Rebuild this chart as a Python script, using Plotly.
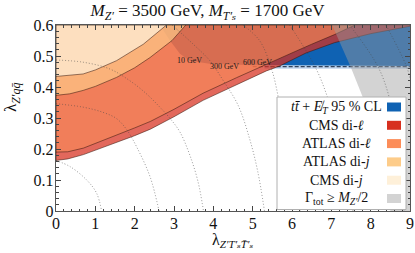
import plotly.graph_objects as go

# ---------------- data ----------------
X_RANGE = [0, 9]
Y_RANGE = [0, 0.6]
x_ticks = [0, 1, 2, 3, 4, 5, 6, 7, 8, 9]
y_ticks = [0, 0.1, 0.2, 0.3, 0.4, 0.5, 0.6]
y_ticktext = ["0", "0.1", "0.2", "0.3", "0.4", "0.5", "0.6"]

# lower boundaries of excluded regions (region lies above the curve)
cms_dil_x = [0, 0.3, 0.7, 1.1, 1.5, 2.0, 2.4, 3.0, 3.74, 4.59, 5.35, 5.69, 6.36, 7.08, 8.0, 9.0]
cms_dil_y = [0.163, 0.168, 0.182, 0.2, 0.22, 0.243, 0.264, 0.304, 0.357, 0.406, 0.452, 0.468, 0.51, 0.543, 0.572, 0.596]

atlas_dil_x = [0, 0.3, 0.7, 1.1, 1.5, 2.0, 2.4, 3.0, 3.74, 4.59, 5.43, 6.0, 6.5, 7.08, 7.6]
atlas_dil_y = [0.19, 0.191, 0.203, 0.222, 0.243, 0.268, 0.289, 0.328, 0.38, 0.43, 0.479, 0.51, 0.538, 0.569, 0.6]

atlas_dij_x = [0, 0.35, 0.69, 1.0, 1.54, 2.0, 2.39, 2.95, 3.3]
atlas_dij_y = [0.373, 0.378, 0.389, 0.402, 0.431, 0.462, 0.495, 0.55, 0.6]

cms_dij_x = [0, 0.35, 0.69, 1.0, 1.54, 2.22, 2.81]
cms_dij_y = [0.434, 0.437, 0.442, 0.455, 0.485, 0.538, 0.6]

# tt + MET excluded region (boundary, region above / right)
ttmet_x = [2.64, 2.9, 3.15, 3.4, 3.9, 5.0, 9.0]
ttmet_y = [0.6, 0.549, 0.507, 0.485, 0.475, 0.47, 0.468]
ttmet_edge_x = [5.0, 9.0]
ttmet_edge_y = [0.466, 0.466]

# Gamma_tot >= M/2 (region right of the curve)
gamma_x = [7.02, 7.5, 7.8, 8.1, 8.35, 8.5]
gamma_y = [0.6, 0.462, 0.367, 0.25, 0.12, 0.0]

# dotted width contours
contours = [
    ([0, 0.36, 0.78, 1.03, 1.16], [0.163, 0.143, 0.1, 0.058, 0]),
    ([0, 0.69, 1.2, 1.54, 1.8, 2.05, 2.39, 2.62], [0.346, 0.335, 0.318, 0.298, 0.262, 0.207, 0.111, 0]),
    ([0, 0.69, 1.37, 1.88, 2.3, 2.64, 2.89, 3.15, 3.4, 3.61, 3.75],
     [0.487, 0.48, 0.458, 0.42, 0.378, 0.335, 0.3, 0.255, 0.181, 0.095, 0]),
    ([2.95, 3.49, 3.91, 4.25, 4.63, 4.92, 5.13, 5.3], [0.6, 0.538, 0.485, 0.421, 0.341, 0.234, 0.127, 0]),
    ([4.75, 5.18, 5.5, 5.69, 5.9, 6.1, 6.2], [0.6, 0.549, 0.45, 0.346, 0.25, 0.12, 0]),
    ([5.94, 6.62, 7.0, 7.3, 7.5, 7.55], [0.6, 0.457, 0.33, 0.2, 0.08, 0]),
    ([7.46, 8.22, 8.6, 8.8, 8.85], [0.6, 0.457, 0.3, 0.15, 0]),
    ([8.39, 8.9, 9.0], [0.6, 0.47, 0.43]),
]

mass_labels = ["10 GeV", "300 GeV", "600 GeV"]
mass_label_x = [3.4, 4.29, 5.13]
mass_label_y = [0.487, 0.466, 0.479]

legend_labels = [
    "<i>t</i><i>t̄</i> + <i>E̸</i><sub><i>T</i></sub> 95 % CL",
    "CMS di-<i>ℓ</i>",
    "ATLAS di-<i>ℓ</i>",
    "ATLAS di-<i>j</i>",
    "CMS di-<i>j</i>",
    "Γ<sub>tot</sub> ≥ <i>M</i><sub><i>Z′</i></sub>/2",
]
legend_colors = ["#0f62b3", "#d7301f", "#fc8d59", "#fdcc8a", "#fef0d9", "#d3d3d3"]

# ---------------- figure ----------------
W, H = 415, 253
ML, MR, MT, MB = 56, 5, 25, 42
SERIF = "Liberation Serif, DejaVu Serif, serif"

fig = go.Figure()

def region_above(xs, ys, close_right):
    px = list(xs)
    py = list(ys)
    if close_right:
        px += [X_RANGE[1], X_RANGE[1]]
        py += [ys[-1], Y_RANGE[1]]
    px += [X_RANGE[0], X_RANGE[0]]
    py += [Y_RANGE[1], ys[0]]
    return px, py

# tt+MET (blue, bottom layer)
bx = list(ttmet_x) + [X_RANGE[1], ttmet_x[0]]
by = list(ttmet_y) + [Y_RANGE[1], Y_RANGE[1]]
fig.add_trace(go.Scatter(x=bx, y=by, fill="toself", mode="lines", line=dict(width=0),
                         fillcolor="#0f62b3", hoverinfo="skip", showlegend=False))
# light fuzz below its edge
fig.add_trace(go.Scatter(x=[5.3, 9.0, 9.0, 5.3], y=[0.459, 0.459, 0.468, 0.468], fill="toself",
                         mode="lines", line=dict(width=0), fillcolor="rgba(70,130,200,0.35)",
                         hoverinfo="skip", showlegend=False))
fig.add_trace(go.Scatter(x=ttmet_edge_x, y=ttmet_edge_y, mode="lines",
                         line=dict(color="rgba(16,32,58,0.8)", width=1.3, dash="4px,2px"),
                         hoverinfo="skip", showlegend=False))

edge = dict(color="rgba(50,20,10,0.75)", width=0.7)
# CMS di-lepton
x, y = region_above(cms_dil_x, cms_dil_y, True)
fig.add_trace(go.Scatter(x=x, y=y, fill="toself", mode="lines", line=edge,
                         fillcolor="rgba(215,48,31,0.73)", hoverinfo="skip", showlegend=False))
# ATLAS di-lepton
x, y = region_above(atlas_dil_x, atlas_dil_y, False)
fig.add_trace(go.Scatter(x=x, y=y, fill="toself", mode="lines", line=edge,
                         fillcolor="rgba(252,141,89,0.6)", hoverinfo="skip", showlegend=False))
# ATLAS di-jet
x, y = region_above(atlas_dij_x, atlas_dij_y, False)
fig.add_trace(go.Scatter(x=x, y=y, fill="toself", mode="lines", line=edge,
                         fillcolor="rgba(253,204,138,0.67)", hoverinfo="skip", showlegend=False))
# CMS di-jet
x, y = region_above(cms_dij_x, cms_dij_y, False)
fig.add_trace(go.Scatter(x=x, y=y, fill="toself", mode="lines", line=edge,
                         fillcolor="rgba(254,240,217,0.72)", hoverinfo="skip", showlegend=False))

# Gamma >= M/2 (gray, translucent on top)
gx = list(gamma_x) + [X_RANGE[1], X_RANGE[1]]
gy = list(gamma_y) + [Y_RANGE[0], Y_RANGE[1]]
fig.add_trace(go.Scatter(x=gx, y=gy, fill="toself", mode="lines", line=dict(width=0),
                         fillcolor="rgba(157,157,157,0.45)", hoverinfo="skip", showlegend=False))

# dotted contours
for cx, cy in contours:
    fig.add_trace(go.Scatter(x=cx, y=cy, mode="lines",
                             line=dict(color="rgba(70,70,70,0.7)", width=0.8, dash="1px,2px"),
                             line_shape="spline", hoverinfo="skip", showlegend=False))

# mass labels
for t, lx, ly in zip(mass_labels, mass_label_x, mass_label_y):
    fig.add_annotation(x=lx, y=ly, text=t, showarrow=False, font=dict(family=SERIF, size=8, color="#1a1a1a"))

# ---------------- manual legend ----------------
PW = W - ML - MR
PH = H - MT - MB
def pxx(p):
    return (p - ML) / PW
def pxy(p):
    return (H - MB - p) / PH

LEG_L, LEG_R, LEG_T, LEG_B = 277, 406, 97, 209.5
fig.add_shape(type="rect", xref="paper", yref="paper", x0=pxx(LEG_L), x1=pxx(LEG_R), y0=pxy(LEG_B), y1=pxy(LEG_T),
              fillcolor="white", line=dict(color="#b0b0b0", width=1), layer="above")
row0, drow = 107, 18.3
for i, (lab, col) in enumerate(zip(legend_labels, legend_colors)):
    cy = row0 + i * drow
    fig.add_shape(type="rect", xref="paper", yref="paper", x0=pxx(387), x1=pxx(401),
                  y0=pxy(cy + 4.5), y1=pxy(cy - 4.5), fillcolor=col, line=dict(width=0), layer="above")
    fig.add_annotation(xref="paper", yref="paper", x=pxx(336), y=pxy(cy), text=lab, showarrow=False,
                       xanchor="center", yanchor="middle", font=dict(family=SERIF, size=14, color="#111"))

# axis titles
fig.add_annotation(xref="paper", yref="paper", x=0.5, y=pxy(240), text="λ<sub><i>Z′T′ₛT̄′ₛ</i></sub>",
                   showarrow=False, xanchor="center", yanchor="middle", font=dict(family=SERIF, size=16, color="#111"))
fig.add_annotation(xref="paper", yref="paper", x=pxx(12), y=pxy(98), text="λ<sub><i>Z′qq̄</i></sub>",
                   textangle=-90, showarrow=False, xanchor="center", yanchor="middle",
                   font=dict(family=SERIF, size=17, color="#111"))

axis_common = dict(showgrid=False, zeroline=False, showline=True, linecolor="#555", linewidth=1.3,
                   mirror="allticks", ticks="inside", ticklen=5, tickcolor="#444", tickwidth=1,
                   ticklabeloverflow="allow", automargin=False,
                   tickfont=dict(family=SERIF, size=16, color="#111"))
fig.update_xaxes(range=X_RANGE, tickvals=x_ticks, ticklabelstandoff=-3,
                 minor=dict(dtick=0.2, ticks="inside", ticklen=2.5, tickcolor="#444"),
                 **axis_common)
fig.update_yaxes(range=Y_RANGE, tickvals=y_ticks, ticktext=y_ticktext, ticklabelstandoff=-2,
                 minor=dict(dtick=0.02, ticks="inside", ticklen=2.5, tickcolor="#444"), **axis_common)

fig.update_layout(
    width=W, height=H, margin=dict(l=ML, r=MR, t=MT, b=MB, autoexpand=False),
    paper_bgcolor="white", plot_bgcolor="white",
    title=dict(text="<i>M</i><sub><i>Z′</i></sub> = 3500 GeV, <i>M</i><sub><i>T′ₛ</i></sub> = 1700 GeV",
               x=0.5, xanchor="center", y=1 - 10 / H, yanchor="middle", yref="container",
               font=dict(family=SERIF, size=17, color="#111")),
    showlegend=False,
)

fig.write_html("out.html", config={"displayModeBar": False, "staticPlot": True},
               post_script="document.body.style.margin='0';document.body.style.overflow='hidden';")
